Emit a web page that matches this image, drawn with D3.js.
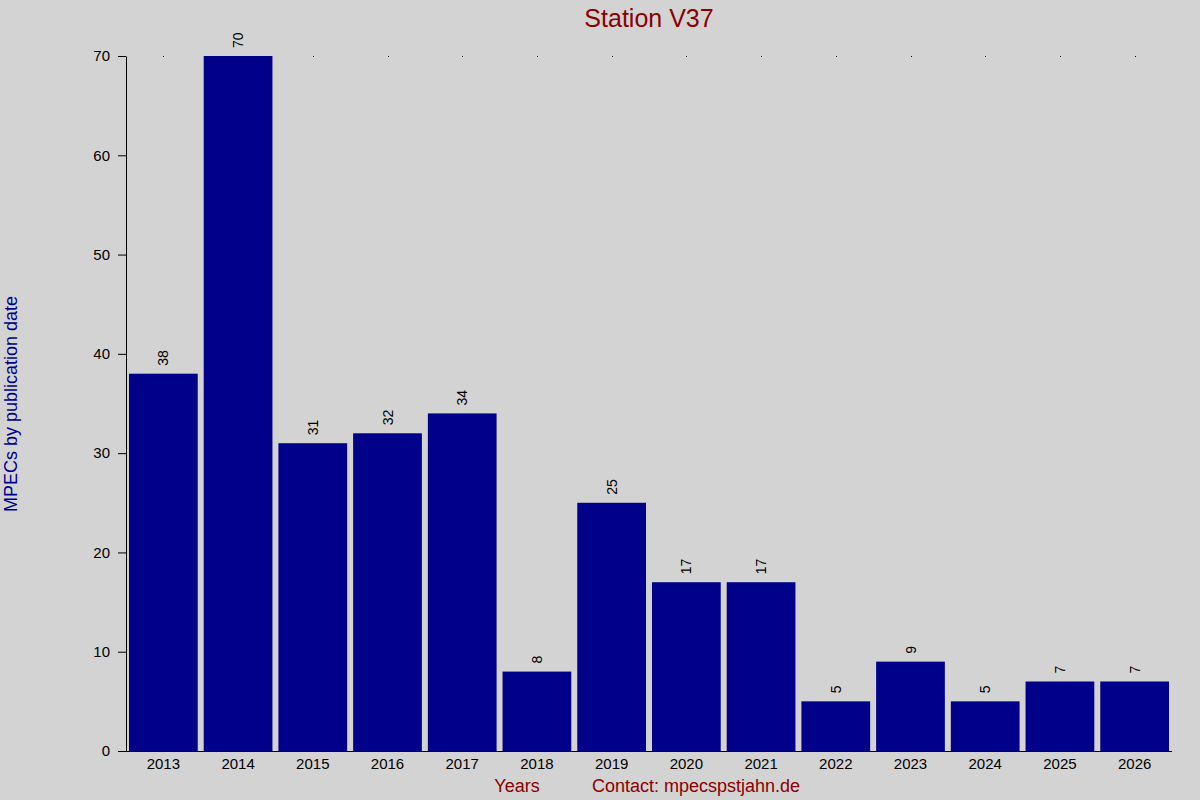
<!DOCTYPE html>
<html>
<head>
  <title>Station V37</title>
  <script src="https://d3js.org/d3.v7.min.js"></script>
  <style>
    html, body {
      margin: 0;
      padding: 0;
      overflow: hidden;
      background-color: #d3d3d3;
    }
    svg {
      display: block;
      font-family: Arial, "Liberation Sans", sans-serif;
    }
  </style>
</head>
<body>
  <svg></svg>
  <script>
    // chart data
    var years = ["2013", "2014", "2015", "2016", "2017", "2018", "2019",
                 "2020", "2021", "2022", "2023", "2024", "2025", "2026"];
    var counts = [38, 70, 31, 32, 34, 8, 25, 17, 17, 5, 9, 5, 7, 7];
    var yTicks = [0, 10, 20, 30, 40, 50, 60, 70];

    var width = 1200, height = 800;
    // note: "top" is reserved on window, so use plot* names
    var plotLeft = 126, plotRight = 1172, plotTop = 56, plotBottom = 751;

    var svg = d3.select("svg")
        .attr("width", width)
        .attr("height", height);

    svg.append("rect")
        .attr("width", width)
        .attr("height", height)
        .attr("fill", "#d3d3d3");

    var x = d3.scaleBand()
        .domain(years)
        .range([plotLeft, plotRight])
        .paddingInner(0.08)
        .paddingOuter(0.04);

    var y = d3.scaleLinear()
        .domain([0, 70])
        .range([plotBottom, plotTop]);

    // tiny dots along the top at each category
    svg.append("g")
        .selectAll("rect")
        .data(years)
        .join("rect")
        .attr("x", d => Math.round(x(d) + x.bandwidth() / 2))
        .attr("y", plotTop)
        .attr("width", 1)
        .attr("height", 1)
        .attr("fill", "#000");

    // bars
    var data = years.map((d, i) => ({year: d, value: counts[i]}));
    svg.append("g")
        .selectAll("rect")
        .data(data)
        .join("rect")
        .attr("x", d => x(d.year))
        .attr("y", d => y(d.value))
        .attr("width", x.bandwidth())
        .attr("height", d => y(0) - y(d.value))
        .attr("fill", "#00008b");

    // value labels, rotated
    svg.append("g")
        .selectAll("text")
        .data(data)
        .join("text")
        .attr("transform", d => "translate(" + (x(d.year) + x.bandwidth() / 2) + "," + (y(d.value) - 8) + ") rotate(-90)")
        .attr("dy", "0.36em")
        .attr("text-anchor", "start")
        .attr("font-size", 14)
        .attr("fill", "#000")
        .text(d => d.value);

    // y axis
    var yAxis = svg.append("g")
        .attr("transform", "translate(" + plotLeft + ",0)")
        .call(d3.axisLeft(y).tickValues(yTicks).tickSize(8).tickPadding(8).tickSizeOuter(0));
    yAxis.select(".domain").attr("stroke", "#000");
    yAxis.selectAll("text").attr("font-size", 15).attr("font-family", "Arial, 'Liberation Sans', sans-serif").attr("fill", "#000");

    // x axis
    var xAxis = svg.append("g")
        .attr("transform", "translate(0," + plotBottom + ")")
        .call(d3.axisBottom(x).tickSize(0).tickPadding(7));
    xAxis.select(".domain").attr("d", "M" + (plotLeft - 8) + ",0.5H" + plotRight).attr("stroke", "#000");
    xAxis.selectAll("text").attr("font-size", 15).attr("font-family", "Arial, 'Liberation Sans', sans-serif").attr("fill", "#000");

    // title and labels
    svg.append("text")
        .attr("x", 649)
        .attr("y", 27)
        .attr("text-anchor", "middle")
        .attr("font-size", 25)
        .attr("fill", "#8b0000")
        .text("Station V37");

    svg.append("text")
        .attr("transform", "translate(17,404) rotate(-90)")
        .attr("text-anchor", "middle")
        .attr("font-size", 18)
        .attr("fill", "#00008b")
        .text("MPECs by publication date");

    svg.append("text")
        .attr("x", 517)
        .attr("y", 792)
        .attr("text-anchor", "middle")
        .attr("font-size", 18)
        .attr("fill", "#8b0000")
        .text("Years");

    svg.append("text")
        .attr("x", 592)
        .attr("y", 792)
        .attr("text-anchor", "start")
        .attr("font-size", 18)
        .attr("fill", "#8b0000")
        .text("Contact: mpecspstjahn.de");
  </script>
</body>
</html>
